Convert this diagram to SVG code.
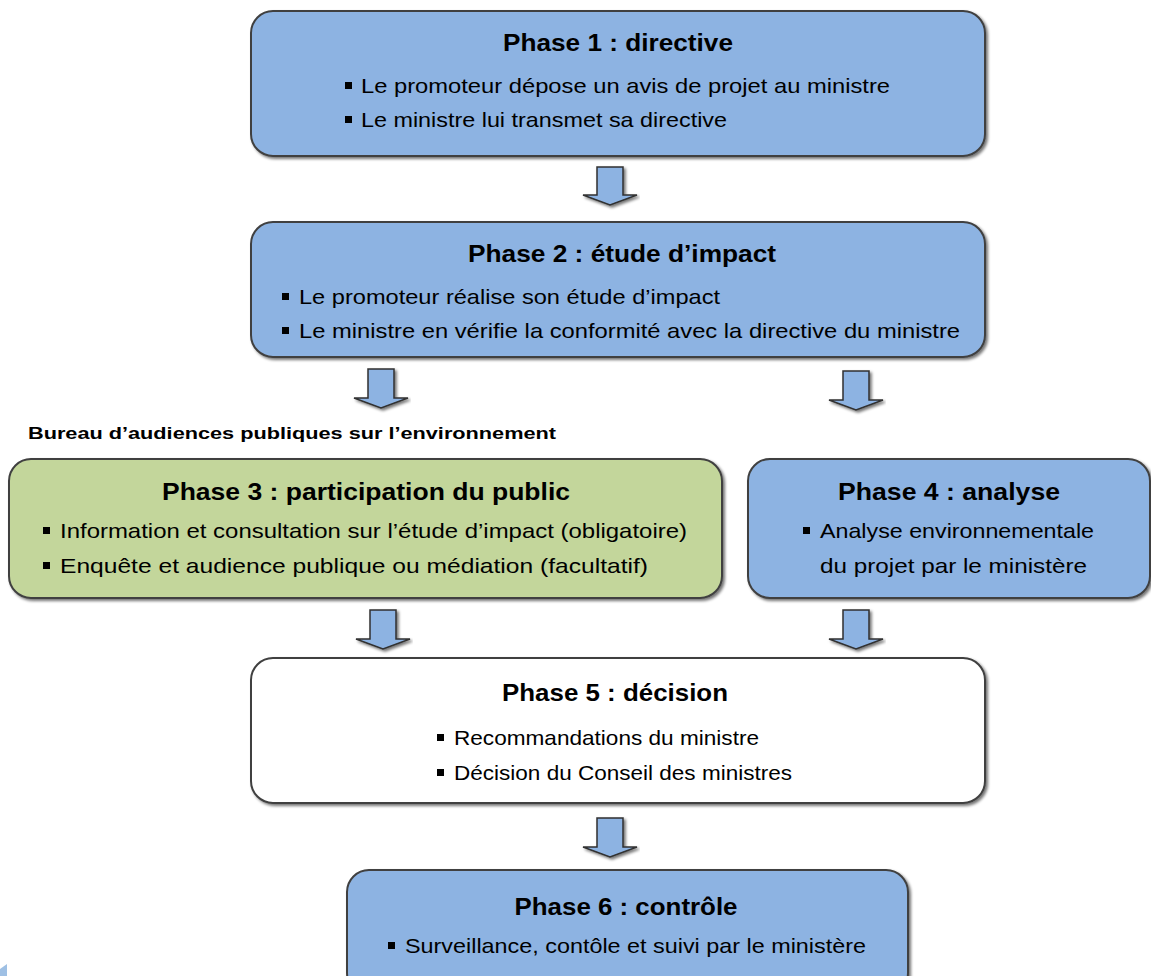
<svg xmlns="http://www.w3.org/2000/svg" width="1151" height="976" viewBox="0 0 1151 976">
<defs>
<filter id="sh" x="-5%" y="-10%" width="110%" height="125%">
<feGaussianBlur in="SourceAlpha" stdDeviation="1.5"/>
<feOffset dx="1.5" dy="2" result="b"/>
<feComponentTransfer><feFuncA type="linear" slope="0.55"/></feComponentTransfer>
<feMerge><feMergeNode/><feMergeNode in="SourceGraphic"/></feMerge>
</filter>
</defs>
<style>
.box{stroke:#404040;stroke-width:2;filter:url(#sh)}
.blue{fill:#8db3e2}
.green{fill:#c3d69b}
.white{fill:#ffffff}
.t{font-family:"Liberation Sans",Arial,sans-serif;font-weight:bold;font-size:24px;fill:#000}
.l{font-family:"Liberation Sans",Arial,sans-serif;font-size:21px;fill:#000}
.lab{font-family:"Liberation Sans",Arial,sans-serif;font-weight:bold;font-size:17px;fill:#000}
.b{fill:#000}
.arr{fill:#8db3e2;stroke:#303030;stroke-width:1.5;filter:url(#sh)}
</style>
<rect width="1151" height="976" fill="#ffffff"/>

<g id="connectors">
<path class="arr" d="M597,167 H623 V195 H637 L610,205 L583,195 H597 Z"/>
<path class="arr" d="M368,369 H394 V398 H408 L381,408 L354,398 H368 Z"/>
<path class="arr" d="M843,371 H869 V400 H883 L856,410 L829,400 H843 Z"/>
<path class="arr" d="M370,610 H396 V639 H410 L383,649 L356,639 H370 Z"/>
<path class="arr" d="M843,610 H869 V639 H883 L856,649 L829,639 H843 Z"/>
<path class="arr" d="M597,818 H623 V847 H637 L610,857 L583,847 H597 Z"/>
</g>

<g id="phase1">
<rect class="box blue" x="251" y="11" width="734" height="145" rx="22"/>
<text class="t" x="618" y="51" text-anchor="middle" textLength="230" lengthAdjust="spacingAndGlyphs">Phase 1 : directive</text>
<rect class="b" x="345" y="82" width="7" height="7"/>
<text class="l" x="361" y="93" textLength="529" lengthAdjust="spacingAndGlyphs">Le promoteur dépose un avis de projet au ministre</text>
<rect class="b" x="345" y="116" width="7" height="7"/>
<text class="l" x="361" y="127" textLength="366" lengthAdjust="spacingAndGlyphs">Le ministre lui transmet sa directive</text>
</g>

<g id="phase2">
<rect class="box blue" x="251" y="222" width="734" height="135" rx="22"/>
<text class="t" x="622" y="262" text-anchor="middle" textLength="308" lengthAdjust="spacingAndGlyphs">Phase 2 : étude d’impact</text>
<rect class="b" x="282" y="293" width="7" height="7"/>
<text class="l" x="299" y="304" textLength="421" lengthAdjust="spacingAndGlyphs">Le promoteur réalise son étude d’impact</text>
<rect class="b" x="282" y="327" width="7" height="7"/>
<text class="l" x="299" y="338" textLength="661" lengthAdjust="spacingAndGlyphs">Le ministre en vérifie la conformité avec la directive du ministre</text>
</g>

<text id="bureau" class="lab" x="28" y="439" textLength="528" lengthAdjust="spacingAndGlyphs">Bureau d’audiences publiques sur l’environnement</text>

<g id="phase3">
<rect class="box green" x="9" y="459" width="713" height="139" rx="22"/>
<text class="t" x="366" y="500" text-anchor="middle" textLength="408" lengthAdjust="spacingAndGlyphs">Phase 3 : participation du public</text>
<rect class="b" x="43" y="527" width="7" height="7"/>
<text class="l" x="60" y="538" textLength="627" lengthAdjust="spacingAndGlyphs">Information et consultation sur l’étude d’impact (obligatoire)</text>
<rect class="b" x="43" y="562" width="7" height="7"/>
<text class="l" x="60" y="573" textLength="588" lengthAdjust="spacingAndGlyphs">Enquête et audience publique ou médiation (facultatif)</text>
</g>

<g id="phase4">
<rect class="box blue" x="748" y="459" width="402" height="139" rx="22"/>
<text class="t" x="949" y="500" text-anchor="middle" textLength="222" lengthAdjust="spacingAndGlyphs">Phase 4 : analyse</text>
<rect class="b" x="803" y="527" width="7" height="7"/>
<text class="l" x="820" y="538" textLength="274" lengthAdjust="spacingAndGlyphs">Analyse environnementale</text>
<text class="l" x="820" y="573" textLength="267" lengthAdjust="spacingAndGlyphs">du projet par le ministère</text>
</g>

<g id="phase5">
<rect class="box white" x="251" y="658" width="734" height="145" rx="22"/>
<text class="t" x="615" y="701" text-anchor="middle" textLength="226" lengthAdjust="spacingAndGlyphs">Phase 5 : décision</text>
<rect class="b" x="437" y="734" width="7" height="7"/>
<text class="l" x="454" y="745" textLength="305" lengthAdjust="spacingAndGlyphs">Recommandations du ministre</text>
<rect class="b" x="437" y="769" width="7" height="7"/>
<text class="l" x="454" y="780" textLength="338" lengthAdjust="spacingAndGlyphs">Décision du Conseil des ministres</text>
</g>

<g id="phase6">
<rect class="box blue" x="347" y="870" width="561" height="125" rx="22"/>
<text class="t" x="626" y="915" text-anchor="middle" textLength="223" lengthAdjust="spacingAndGlyphs">Phase 6 : contrôle</text>
<rect class="b" x="388" y="942" width="7" height="7"/>
<text class="l" x="405" y="953" textLength="461" lengthAdjust="spacingAndGlyphs">Surveillance, contôle et suivi par le ministère</text>
</g>

<polygon points="0,969 7,964 7,976 0,976" fill="#9fc0e4"/>
</svg>
